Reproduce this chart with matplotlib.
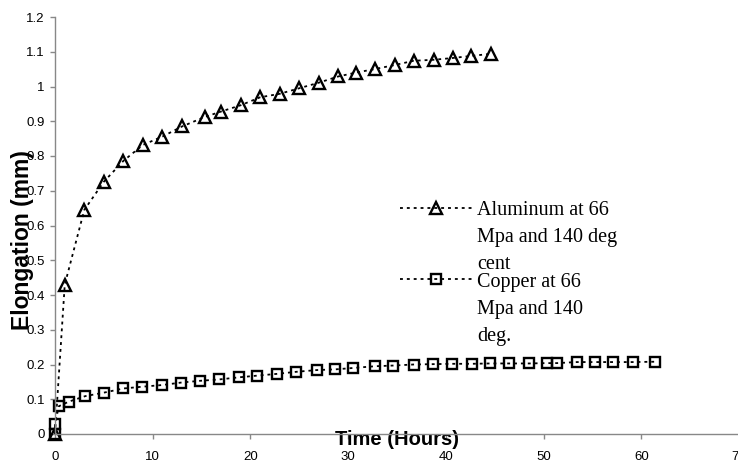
import matplotlib
matplotlib.use('Agg')
import matplotlib.pyplot as plt
from matplotlib.lines import Line2D
from matplotlib.ticker import FuncFormatter

# readings taken off the chart (hours, mm)
al_time = [0, 1, 3, 5, 7, 9, 11, 13, 15.3, 17, 19, 21, 23, 25, 27, 29,
           30.8, 32.7, 34.8, 36.7, 38.8, 40.7, 42.6, 44.6]
al_elong = [0, 0.43, 0.645, 0.726, 0.786, 0.832, 0.856, 0.885, 0.912, 0.928,
            0.946, 0.969, 0.979, 0.995, 1.011, 1.029, 1.04, 1.05, 1.062,
            1.074, 1.077, 1.082, 1.088, 1.094]

cu_time = [0, 0, 0.4, 1.4, 3.1, 5, 7, 8.9, 11, 12.9, 14.8, 16.8, 18.8, 20.7,
           22.7, 24.7, 26.8, 28.7, 30.5, 32.75, 34.6, 36.7, 38.7, 40.6,
           42.65, 44.5, 46.5, 48.5, 50.3, 51.35, 53.4, 55.3, 57.1, 59.2, 61.4]
cu_elong = [0, 0.03, 0.08, 0.093, 0.109, 0.119, 0.131, 0.136, 0.141, 0.148,
            0.153, 0.157, 0.163, 0.168, 0.173, 0.179, 0.184, 0.186, 0.19,
            0.195, 0.197, 0.2, 0.201, 0.202, 0.202, 0.203, 0.203, 0.203,
            0.204, 0.204, 0.207, 0.207, 0.207, 0.207, 0.208]

al_label = ['Aluminum at 66', 'Mpa and 140 deg', 'cent']
cu_label = ['Copper at 66', 'Mpa and 140', 'deg.']

x_ticks = [0, 10, 20, 30, 40, 50, 60, 70]
y_ticks = [0, 0.1, 0.2, 0.3, 0.4, 0.5, 0.6, 0.7, 0.8, 0.9, 1, 1.1, 1.2]

plt.rcParams['font.family'] = ['Liberation Sans', 'DejaVu Sans']

fig = plt.figure(figsize=(7.38, 4.62), dpi=100)
ax = fig.add_axes([55 / 738, 28 / 462, 684 / 738, 417 / 462])

dots = (0, (1.6, 2.2))
al_line, = ax.plot(al_time, al_elong, color='black', lw=1.3, linestyle=dots,
                   marker='^', markersize=8.5, markerfacecolor='none',
                   markeredgecolor='black', markeredgewidth=1.7, clip_on=False)
cu_line, = ax.plot(cu_time, cu_elong, color='black', lw=1.3, linestyle=dots,
                   marker='s', markersize=6.5, markerfacecolor='none',
                   markeredgecolor='black', markeredgewidth=1.7, clip_on=False)

ax.set_xlim(0, 70)
ax.set_ylim(0, 1.2)
ax.set_xticks(x_ticks)
ax.set_yticks(y_ticks)
ax.yaxis.set_major_formatter(FuncFormatter(lambda v, p: f'{v:g}'))

for side in ['top', 'right']:
    ax.spines[side].set_visible(False)
for side in ['left', 'bottom']:
    ax.spines[side].set_color('#888888')
    ax.spines[side].set_linewidth(1.0)

ax.tick_params(axis='both', colors='#888888', labelcolor='black',
               labelsize=9.5, length=3.5, width=1.0, direction='out')
ax.tick_params(axis='x', pad=9)
ax.tick_params(axis='y', pad=4)

ax.set_xlabel('Time (Hours)', fontsize=14.5, fontweight='bold')
ax.xaxis.label.set_va('center')
ax.xaxis.set_label_coords(0.5, -0.012)
ax.set_ylabel('Elongation (mm)', fontsize=16.5, fontweight='bold')
ax.yaxis.label.set_va('center')
ax.yaxis.set_label_coords(-0.047, 0.465)

# legend: one row per text line, handle on the first row of each entry
blank = Line2D([], [], linestyle='none')
leg_kw = dict(frameon=False, borderpad=0, borderaxespad=0,
              handlelength=3.6, handletextpad=0.25, labelspacing=0.4,
              prop={'family': 'Liberation Serif', 'size': 14.5},
              loc='center left', numpoints=1)
leg1 = ax.legend([al_line, blank, blank], al_label,
                 bbox_to_anchor=(0.504, 0.472), **leg_kw)
ax.add_artist(leg1)
ax.legend([cu_line, blank, blank], cu_label,
          bbox_to_anchor=(0.504, 0.2995), **leg_kw)

fig.savefig('out.png', dpi=100)
